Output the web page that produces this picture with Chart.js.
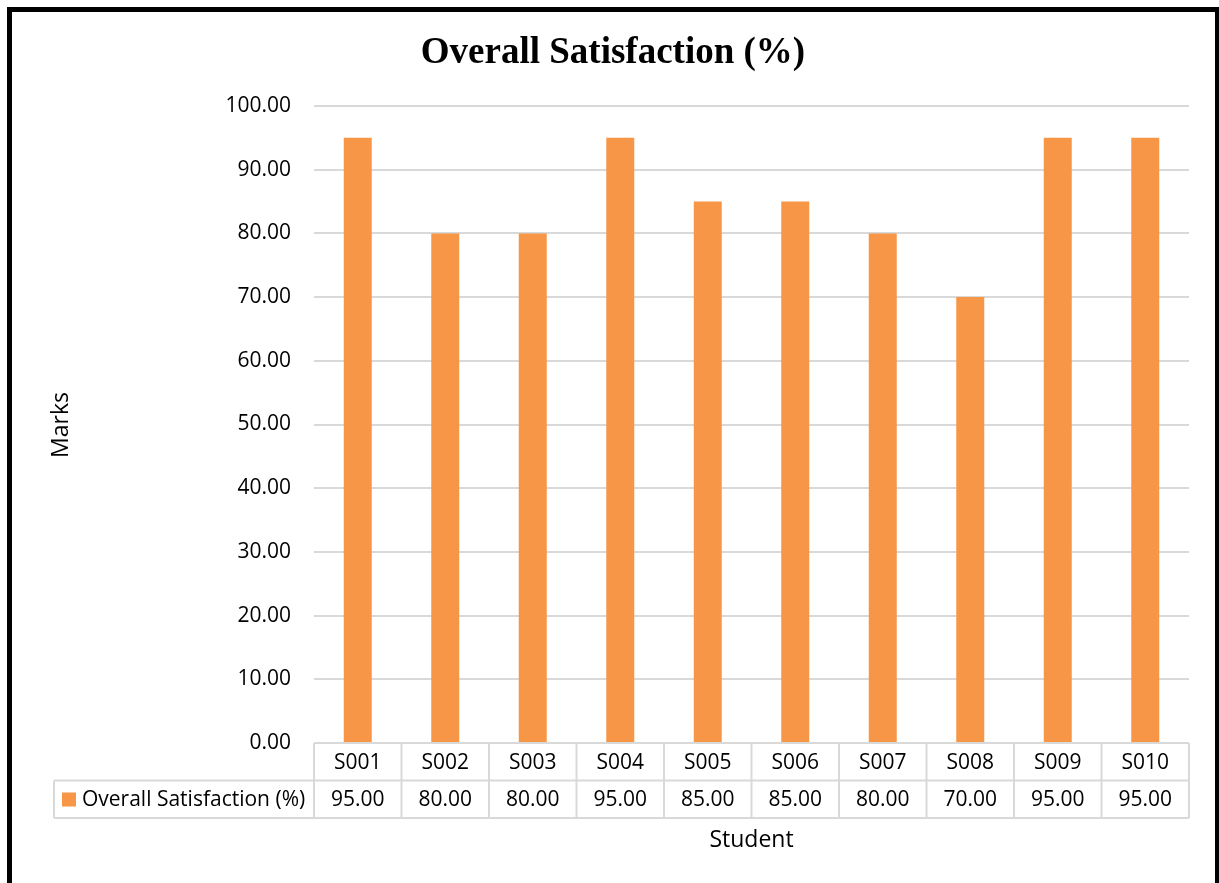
<!DOCTYPE html>
<html>
<head>
<meta charset="utf-8">
<title>Overall Satisfaction (%)</title>
<script src="https://cdn.jsdelivr.net/npm/chart.js@4/dist/chart.umd.min.js"></script>
<style>
  html, body { margin: 0; padding: 0; background: #ffffff; }
  #wrap { width: 1219px; height: 883px; }
</style>
</head>
<body>
<div id="wrap"><canvas id="chart" width="1219" height="883"></canvas></div>
<script>
// Chart data
const students = ['S001', 'S002', 'S003', 'S004', 'S005', 'S006', 'S007', 'S008', 'S009', 'S010'];
const satisfaction = [95, 80, 80, 95, 85, 85, 80, 70, 95, 95];
const seriesName = 'Overall Satisfaction (%)';
const chartTitle = 'Overall Satisfaction (%)';
const yAxisTitle = 'Marks';
const xAxisTitle = 'Student';

const BAR_COLOR = '#F79646';
const GRID_COLOR = '#d9d9d9';
const TEXT_COLOR = '#000000';
const SANS = '"Open Sans", "Noto Sans", sans-serif';

// Frame, title, axis titles and the data table under the plot
const decorations = {
  id: 'decorations',
  afterDraw(chart) {
    const ctx = chart.ctx;
    const area = chart.chartArea;
    const x = chart.scales.x;
    ctx.save();

    // outer black frame
    ctx.fillStyle = '#000000';
    ctx.fillRect(7, 7, 5, 876);
    ctx.fillRect(7, 7, 1212, 5);
    ctx.fillRect(1215, 7, 4, 876);

    // title
    ctx.fillStyle = TEXT_COLOR;
    ctx.font = 'bold 37px "Liberation Serif", "Times New Roman", serif';
    ctx.textAlign = 'center';
    ctx.textBaseline = 'middle';
    ctx.fillText(chartTitle, 613, 53);

    // y axis title
    ctx.font = '23px ' + SANS;
    ctx.save();
    ctx.translate(61, 425);
    ctx.rotate(-Math.PI / 2);
    ctx.fillText(yAxisTitle, 0, 0);
    ctx.restore();

    // x axis title
    ctx.fillText(xAxisTitle, (area.left + area.right) / 2, 840);

    // data table
    const top = area.bottom;
    const rowH = 37.5;
    const legendLeft = 54;
    const n = students.length;
    const half = (x.getPixelForValue(1) - x.getPixelForValue(0)) / 2;
    const colEdge = i => x.getPixelForValue(i) - half;

    ctx.strokeStyle = GRID_COLOR;
    ctx.lineWidth = 2;
    ctx.beginPath();
    // horizontal lines
    ctx.moveTo(area.left, top);
    ctx.lineTo(colEdge(n), top);
    ctx.moveTo(legendLeft, top + rowH);
    ctx.lineTo(colEdge(n), top + rowH);
    ctx.moveTo(legendLeft, top + 2 * rowH);
    ctx.lineTo(colEdge(n), top + 2 * rowH);
    // vertical lines
    for (let i = 0; i <= n; i++) {
      ctx.moveTo(colEdge(i), top);
      ctx.lineTo(colEdge(i), top + 2 * rowH);
    }
    ctx.moveTo(legendLeft, top + rowH);
    ctx.lineTo(legendLeft, top + 2 * rowH);
    ctx.stroke();

    ctx.fillStyle = TEXT_COLOR;
    ctx.font = '21px ' + SANS;
    ctx.textAlign = 'center';
    ctx.textBaseline = 'middle';
    students.forEach((s, i) => {
      const cx = x.getPixelForValue(i);
      ctx.fillText(s, cx, top + rowH / 2 + 1);
      ctx.fillText(satisfaction[i].toFixed(2), cx, top + rowH * 1.5 + 1);
    });

    // legend key in the table
    ctx.fillStyle = BAR_COLOR;
    ctx.fillRect(62, top + rowH + 12, 14, 14);
    ctx.fillStyle = TEXT_COLOR;
    ctx.textAlign = 'left';
    ctx.font = '21px ' + SANS;
    ctx.fillText(seriesName, 82, top + rowH * 1.5 + 1);

    ctx.restore();
  }
};

new Chart(document.getElementById('chart'), {
  type: 'bar',
  data: {
    labels: students,
    datasets: [{
      label: seriesName,
      data: satisfaction,
      backgroundColor: BAR_COLOR,
      borderWidth: 0,
      barPercentage: 0.32,
      categoryPercentage: 1.0
    }]
  },
  options: {
    responsive: false,
    animation: false,
    layout: { padding: { top: 106, bottom: 140, right: 30, left: 0 } },
    plugins: {
      legend: { display: false },
      title: { display: false },
      tooltip: { enabled: false }
    },
    scales: {
      x: { display: false },
      y: {
        min: 0,
        max: 100,
        border: { display: false },
        grid: { color: GRID_COLOR, lineWidth: 2, drawTicks: false },
        ticks: {
          stepSize: 10,
          padding: 23,
          color: TEXT_COLOR,
          font: { family: SANS, size: 21 },
          callback: v => Number(v).toFixed(2)
        },
        afterFit(scale) { scale.width = 314; }
      }
    }
  },
  plugins: [decorations]
});
</script>
</body>
</html>
